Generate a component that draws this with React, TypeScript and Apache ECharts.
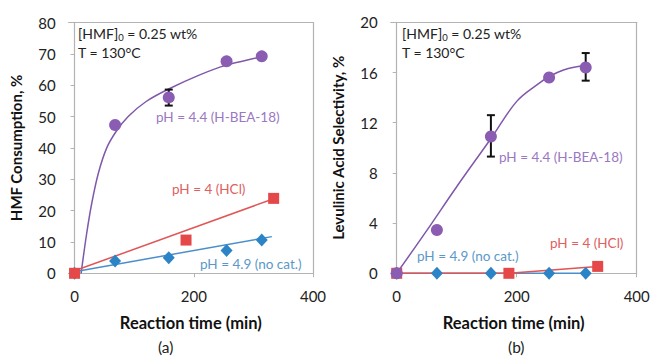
import React, { useEffect, useRef } from "react";
import * as echarts from "echarts";

// ---- data: panel (a) HMF consumption, % ----
const timesA = [0, 68, 158, 255, 314];
const hbeaA = [null, 47.3, 56.1, 67.6, 69.2];
const hclTimesA = [0, 187, 334];
const hclA = [0, 10.6, 23.9];
const nocatA = [0, 3.9, 5.0, 7.3, 10.6];
const errA = [[158, 53.5, 58.6]];
// trend lines
const hbeaFitA = [[11, 0], [20, 12.3], [29, 22.5], [40, 32], [54, 40], [70, 45.3], [90, 50], [120, 54.8], [157, 58.7], [210, 63.3], [255, 66.4], [314, 69.1], [322, 69.6]];
const hclFitA = [[0, 0.8], [334, 23.8]];
const nocatFitA = [[0, 0.5], [331, 11.7]];

// ---- data: panel (b) levulinic acid selectivity, % ----
const timesB = [0, 67, 157, 254, 315];
const hbeaB = [0, 3.45, 10.9, 15.6, 16.4];
const hclTimesB = [0, 187, 335];
const hclB = [0, 0, 0.55];
const nocatB = [0, 0, 0, 0, 0];
const errB = [[157, 9.3, 12.6], [315, 15.35, 17.55]];
const hbeaFitB = [[0, 0], [50, 3.4], [100, 6.9], [158, 10.8], [200, 13.7], [233, 15.0], [255, 15.7], [278, 16.2], [300, 16.45], [316, 16.55]];

const xTicks = [0, 200, 400];

const PURPLE = "#8A5DB3";
const PURPLE_LINE = "#7F58A9";
const PURPLE_TXT = "#9A78C2";
const RED = "#E54848";
const RED_LINE = "#E05555";
const RED_TXT = "#E06060";
const BLUE = "#2C84C6";
const BLUE_LINE = "#4A8FCB";
const BLUE_TXT = "#5B98C9";
const GRAY = "#B3B3B3";
const FONT = "Lato";

const zip = (xs: number[], ys: (number | null)[]) =>
  xs.map((x, i) => [x, ys[i]]).filter((p) => p[1] !== null);

function errRender(params: any, api: any) {
  const x = api.value(0);
  const p1 = api.coord([x, api.value(1)]);
  const p2 = api.coord([x, api.value(2)]);
  const w = 4;
  const st = { stroke: "#111", lineWidth: 2 };
  return {
    type: "group",
    children: [
      { type: "line", shape: { x1: p1[0], y1: p1[1], x2: p2[0], y2: p2[1] }, style: st },
      { type: "line", shape: { x1: p1[0] - w, y1: p1[1], x2: p1[0] + w, y2: p1[1] }, style: st },
      { type: "line", shape: { x1: p2[0] - w, y1: p2[1], x2: p2[0] + w, y2: p2[1] }, style: st },
    ],
  };
}

function mainX(grid: number) {
  return {
    type: "value",
    gridIndex: grid,
    min: -10,
    max: 400,
    name: "Reaction time (min)",
    nameLocation: "middle",
    nameGap: 41,
    nameTextStyle: { fontFamily: FONT, fontWeight: "bold", fontSize: 16.5, color: "#111" },
    axisLine: { show: true, onZero: false, lineStyle: { color: GRAY, width: 1.2 } },
    axisTick: { show: true, length: 4, lineStyle: { color: GRAY }, customValues: xTicks },
    axisLabel: { fontFamily: FONT, fontSize: 15, color: "#222", margin: 15, customValues: xTicks },
    splitLine: { show: false },
  };
}
function frameX(grid: number) {
  return {
    type: "value",
    gridIndex: grid,
    position: "top",
    min: -10,
    max: 400,
    axisLine: { show: true, onZero: false, lineStyle: { color: GRAY, width: 1.2 } },
    axisTick: { show: false },
    axisLabel: { show: false },
    splitLine: { show: false },
  };
}
function mainY(grid: number, max: number, interval: number, name: string) {
  return {
    type: "value",
    gridIndex: grid,
    min: 0,
    max,
    interval,
    name,
    nameLocation: "middle",
    nameGap: 45,
    nameTextStyle: { fontFamily: FONT, fontWeight: "bold", fontSize: 15, color: "#111" },
    axisLine: { show: true, onZero: true, lineStyle: { color: GRAY, width: 1.2 } },
    axisTick: { show: true, length: 4, lineStyle: { color: GRAY } },
    axisLabel: { fontFamily: FONT, fontSize: 15, color: "#222", margin: 13 },
    splitLine: { show: false },
  };
}
function frameY(grid: number, max: number) {
  return {
    type: "value",
    gridIndex: grid,
    position: "right",
    min: 0,
    max,
    axisLine: { show: true, onZero: false, lineStyle: { color: GRAY, width: 1.2 } },
    axisTick: { show: false },
    axisLabel: { show: false },
    splitLine: { show: false },
  };
}

const lbl = (text: string, x: number, y: number, color: string, size = 13.5) => ({
  type: "text",
  left: x,
  top: y,
  style: { text, fill: color, font: `${size}px ${FONT}` },
});

const annot = (x: number, y: number) => ({
  type: "group",
  left: x,
  top: y,
  children: [
    {
      type: "text",
      style: {
        text: "{a|[HMF]}{s|0}{a| = 0.25 wt%}\n{a|T = 130°C}",
        rich: {
          a: { fontFamily: FONT, fontSize: 14, fill: "#222", lineHeight: 19 },
          s: { fontFamily: FONT, fontSize: 9.5, fill: "#222", lineHeight: 19, padding: [7, 0, 0, 0] },
        },
      },
    },
  ],
});

export default function App() {
  const ref = useRef<HTMLDivElement>(null);
  useEffect(() => {
    if (!ref.current) return;
    const chart = echarts.init(ref.current, null, { renderer: "svg" });
    const option: any = {
      animation: false,
      backgroundColor: "#fff",
      textStyle: { fontFamily: FONT },
      grid: [
        { left: 68.6, top: 22.5, width: 244.4, height: 250.8 },
        { left: 390.7, top: 22.3, width: 246, height: 251 },
      ],
      xAxis: [mainX(0), frameX(0), mainX(1), frameX(1)],
      yAxis: [
        mainY(0, 80, 10, "HMF Consumption, %"),
        frameY(0, 80),
        mainY(1, 20, 4, "Levulinic Acid Selectivity, %"),
        frameY(1, 20),
      ],
      series: [
        // panel (a)
        { type: "line", xAxisIndex: 0, yAxisIndex: 0, data: hbeaFitA, smooth: 0.3, symbol: "none", lineStyle: { color: PURPLE_LINE, width: 1.5 }, z: 2 },
        { type: "line", xAxisIndex: 0, yAxisIndex: 0, data: hclFitA, symbol: "none", lineStyle: { color: RED_LINE, width: 1.5 }, z: 2 },
        { type: "line", xAxisIndex: 0, yAxisIndex: 0, data: nocatFitA, symbol: "none", lineStyle: { color: BLUE_LINE, width: 1.5 }, z: 2 },
        { type: "custom", xAxisIndex: 0, yAxisIndex: 0, data: errA, renderItem: errRender, encode: { x: 0, y: [1, 2] }, z: 3 },
        { type: "scatter", name: "pH = 4.4 (H-BEA-18)", xAxisIndex: 0, yAxisIndex: 0, data: zip(timesA, hbeaA), symbol: "circle", symbolSize: 12, itemStyle: { color: PURPLE, opacity: 1 }, z: 4 },
        { type: "scatter", name: "pH = 4.9 (no cat.)", xAxisIndex: 0, yAxisIndex: 0, data: zip(timesA, nocatA), symbol: "diamond", symbolSize: [12, 13], itemStyle: { color: BLUE, opacity: 1 }, z: 4 },
        { type: "scatter", name: "pH = 4 (HCl)", xAxisIndex: 0, yAxisIndex: 0, data: zip(hclTimesA, hclA), symbol: "rect", symbolSize: 11, itemStyle: { color: RED, opacity: 1 }, z: 5 },
        // panel (b)
        { type: "line", xAxisIndex: 2, yAxisIndex: 2, data: hbeaFitB, smooth: 0.4, symbol: "none", lineStyle: { color: PURPLE_LINE, width: 1.5 }, z: 2 },
        { type: "line", xAxisIndex: 2, yAxisIndex: 2, data: zip(timesB, nocatB), symbol: "none", lineStyle: { color: BLUE_LINE, width: 1.5 }, z: 2 },
        { type: "line", xAxisIndex: 2, yAxisIndex: 2, data: zip(hclTimesB, hclB), symbol: "none", lineStyle: { color: RED_LINE, width: 1.5 }, z: 2 },
        { type: "custom", xAxisIndex: 2, yAxisIndex: 2, data: errB, renderItem: errRender, encode: { x: 0, y: [1, 2] }, z: 3 },
        { type: "scatter", name: "pH = 4.9 (no cat.)", xAxisIndex: 2, yAxisIndex: 2, data: zip(timesB, nocatB), symbol: "diamond", symbolSize: [12, 13], itemStyle: { color: BLUE, opacity: 1 }, z: 4 },
        { type: "scatter", name: "pH = 4 (HCl)", xAxisIndex: 2, yAxisIndex: 2, data: zip(hclTimesB, hclB), symbol: "rect", symbolSize: 11, itemStyle: { color: RED, opacity: 1 }, z: 5 },
        { type: "scatter", name: "pH = 4.4 (H-BEA-18)", xAxisIndex: 2, yAxisIndex: 2, data: zip(timesB, hbeaB), symbol: "circle", symbolSize: 12, itemStyle: { color: PURPLE, opacity: 1 }, z: 6 },
      ],
      graphic: [
        annot(78, 25),
        annot(402, 25),
        lbl("pH = 4.4 (H-BEA-18)", 156, 110, PURPLE_TXT),
        lbl("pH = 4 (HCl)", 172, 182, RED_TXT),
        lbl("pH = 4.9 (no cat.)", 200, 257, BLUE_TXT),
        lbl("pH = 4.4 (H-BEA-18)", 499, 150, PURPLE_TXT),
        lbl("pH = 4.9 (no cat.)", 417, 249, BLUE_TXT),
        lbl("pH = 4 (HCl)", 550, 236, RED_TXT),
        lbl("(a)", 158, 339, "#222", 15.5),
        lbl("(b)", 508, 339, "#222", 15.5),
      ],
    };
    chart.setOption(option);
    return () => chart.dispose();
  }, []);
  return (
    <div
      ref={ref}
      style={{ position: "fixed", left: 0, top: 0, width: 653, height: 357, background: "#fff" }}
    />
  );
}
